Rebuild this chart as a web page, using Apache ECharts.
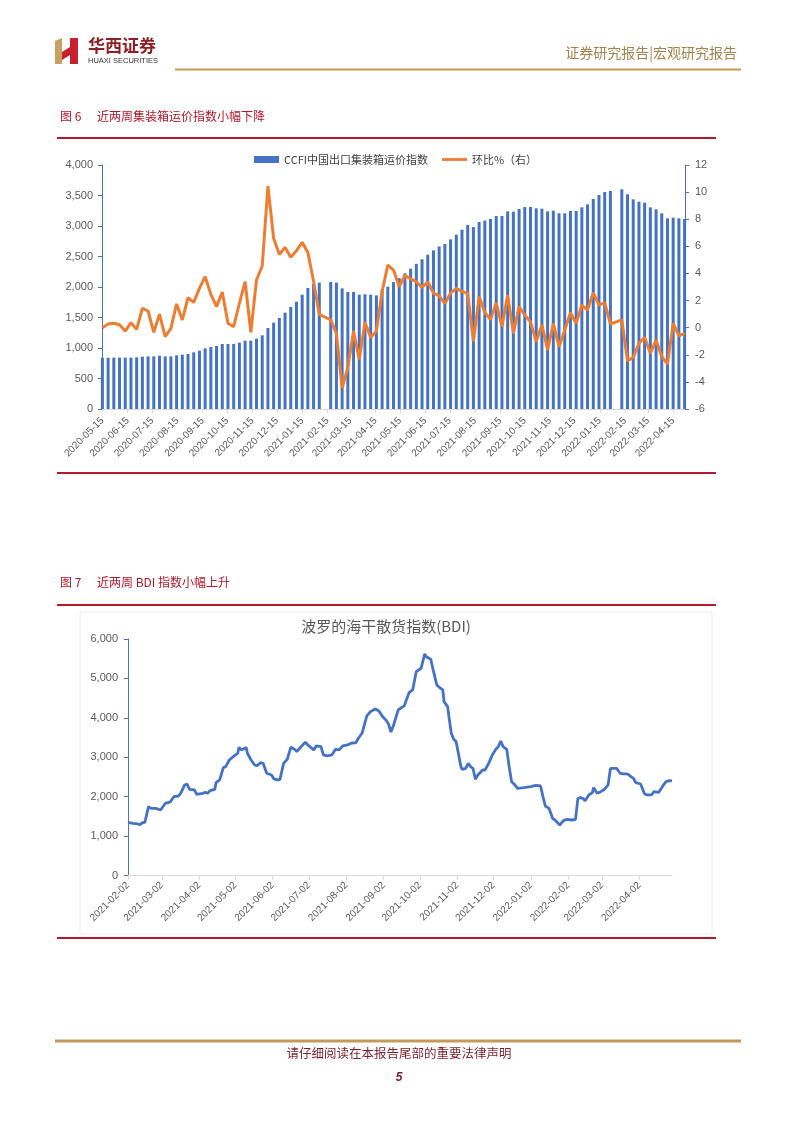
<!DOCTYPE html>
<html><head><meta charset="utf-8">
<script src="https://cdn.jsdelivr.net/npm/echarts@6/dist/echarts.min.js"></script>
<style>html,body{margin:0;padding:0;background:#fff}#c{width:802px;height:1133px}</style>
</head><body><div id="c"></div>
<script>
// ---------- Figure 6: CCFI weekly ----------
const ccfiDates = ['2020-05-15','2020-05-22','2020-05-29','2020-06-05','2020-06-12','2020-06-19','2020-06-26','2020-07-03','2020-07-10','2020-07-17','2020-07-24','2020-07-31','2020-08-07','2020-08-14','2020-08-21','2020-08-28','2020-09-04','2020-09-11','2020-09-18','2020-09-25','2020-10-02','2020-10-09','2020-10-16','2020-10-23','2020-10-30','2020-11-06','2020-11-13','2020-11-20','2020-11-27','2020-12-04','2020-12-11','2020-12-18','2020-12-25','2021-01-01','2021-01-08','2021-01-15','2021-01-22','2021-01-29','2021-02-05','2021-02-19','2021-02-26','2021-03-05','2021-03-12','2021-03-19','2021-03-26','2021-04-02','2021-04-09','2021-04-16','2021-04-23','2021-04-30','2021-05-07','2021-05-14','2021-05-21','2021-05-28','2021-06-04','2021-06-11','2021-06-18','2021-06-25','2021-07-02','2021-07-09','2021-07-16','2021-07-23','2021-07-30','2021-08-06','2021-08-13','2021-08-20','2021-08-27','2021-09-03','2021-09-10','2021-09-17','2021-09-24','2021-10-01','2021-10-08','2021-10-15','2021-10-22','2021-10-29','2021-11-05','2021-11-12','2021-11-19','2021-11-26','2021-12-03','2021-12-10','2021-12-17','2021-12-24','2021-12-31','2022-01-07','2022-01-14','2022-01-21','2022-01-28','2022-02-11','2022-02-18','2022-02-25','2022-03-04','2022-03-11','2022-03-18','2022-03-25','2022-04-01','2022-04-08','2022-04-15','2022-04-22','2022-04-29'];
const ccfiIndex = [841,841,842,842,842,842,847,858,863,863,874,863,863,880,891,902,929,956,995,1016,1033,1066,1066,1066,1087,1120,1120,1153,1208,1328,1415,1492,1579,1672,1760,1874,1984,2050,2071,
  2082,2071,1978,1918,1918,1874,1880,1874,1863,1960,2005,2080,2145,2224,2300,2380,2454,2530,2600,2664,2705,2781,2858,2940,3016,2984,3065,3090,3115,3164,3164,3240,3235,3279,3311,3311,3290,3284,3240,3251,3208,3208,3246,3246,3306,3355,3443,3508,3557,3574,
  3601,3519,3437,3399,3383,3306,3273,3208,3126,3137,3126,3115];
const ccfiChange = [0.0,0.27,0.32,0.22,-0.25,0.37,-0.12,1.43,1.23,-0.34,1.0,-0.66,-0.05,1.75,0.57,2.21,1.87,2.9,3.76,2.46,1.55,2.63,0.32,0.07,1.8,3.39,-0.34,3.52,4.55,10.45,6.59,5.4,5.92,5.19,5.68,6.3,5.55,3.4,0.97,
  0.57,-0.45,-4.45,-2.95,-0.24,-2.35,0.4,-0.72,-0.27,2.65,4.62,4.25,3.02,3.85,3.6,3.39,2.97,3.39,2.55,2.34,1.78,2.55,2.9,2.66,2.55,-1.0,2.29,1.12,0.59,1.84,0.07,2.41,-0.42,1.55,0.93,0.44,-1.03,0.2,-1.65,0.32,-1.4,-0.17,1.1,0.32,1.67,1.3,2.58,1.67,1.84,0.27,
  0.57,-2.46,-2.19,-1.16,-0.71,-1.89,-0.91,-2.14,-2.68,0.32,-0.61,-0.42];
const ccfiTickLabels = ['2020-05-15','2020-06-15','2020-07-15','2020-08-15','2020-09-15','2020-10-15','2020-11-15','2020-12-15','2021-01-15','2021-02-15','2021-03-15','2021-04-15','2021-05-15','2021-06-15','2021-07-15','2021-08-15','2021-09-15','2021-10-15','2021-11-15','2021-12-15','2022-01-15','2022-02-15','2022-03-15','2022-04-15'];

// ---------- Figure 7: BDI ----------
const bdiDates = ['2021-02-02','2021-02-06','2021-02-10','2021-02-12','2021-02-14','2021-02-16','2021-02-19','2021-02-21','2021-02-25','2021-03-01','2021-03-02','2021-03-05','2021-03-09','2021-03-12','2021-03-16','2021-03-18','2021-03-21','2021-03-23','2021-03-25','2021-03-29','2021-03-31','2021-04-05','2021-04-07','2021-04-09','2021-04-11','2021-04-15','2021-04-16','2021-04-19','2021-04-22','2021-04-24','2021-04-27','2021-05-01','2021-05-04','2021-05-05','2021-05-07','2021-05-11','2021-05-12','2021-05-15','2021-05-18','2021-05-20','2021-05-23','2021-05-25','2021-05-28','2021-06-01','2021-06-03','2021-06-06','2021-06-08','2021-06-11','2021-06-14','2021-06-17','2021-06-20','2021-06-22','2021-06-25','2021-06-29','2021-07-02','2021-07-06','2021-07-08','2021-07-12','2021-07-14','2021-07-17','2021-07-21','2021-07-24','2021-07-27','2021-07-30','2021-08-03','2021-08-06','2021-08-10','2021-08-12','2021-08-15','2021-08-19','2021-08-22','2021-08-26','2021-08-29','2021-09-01','2021-09-04','2021-09-06','2021-09-08','2021-09-10','2021-09-14','2021-09-16','2021-09-19','2021-09-23','2021-09-26','2021-09-29','2021-10-03','2021-10-06','2021-10-07','2021-10-11','2021-10-13','2021-10-16','2021-10-19','2021-10-21','2021-10-22','2021-10-25','2021-10-26','2021-10-28','2021-10-30','2021-11-01','2021-11-05','2021-11-06','2021-11-09','2021-11-11','2021-11-13','2021-11-15','2021-11-17','2021-11-19','2021-11-23','2021-11-25','2021-11-28','2021-12-01','2021-12-04','2021-12-06','2021-12-08','2021-12-10','2021-12-13','2021-12-15','2021-12-17','2021-12-19','2021-12-22','2021-12-27','2022-01-02','2022-01-06','2022-01-10','2022-01-12','2022-01-14','2022-01-17','2022-01-20','2022-01-22','2022-01-26','2022-01-29','2022-02-01','2022-02-05','2022-02-08','2022-02-10','2022-02-12','2022-02-14','2022-02-16','2022-02-19','2022-02-22','2022-02-23','2022-02-26','2022-03-01','2022-03-04','2022-03-07','2022-03-09','2022-03-14','2022-03-17','2022-03-20','2022-03-23','2022-03-26','2022-03-28','2022-03-30','2022-04-03','2022-04-06','2022-04-08','2022-04-12','2022-04-14','2022-04-18','2022-04-21','2022-04-24','2022-04-27','2022-04-29'];
const bdiValues = [1349,1324,1307,1290,1341,1350,1746,1704,1704,1662,1620,1832,1866,2000,2017,2102,2297,2322,2187,2170,2060,2085,2110,2085,2153,2187,2356,2424,2737,2762,2931,3033,3101,3253,3186,3245,3101,2931,2804,2787,2863,2846,2593,2550,2449,2424,2440,2846,2948,3253,3202,3143,3253,3380,3287,3186,3287,3270,3058,3033,3058,3202,3186,3287,3312,3355,3372,3481,3608,4048,4158,4226,4175,4031,3940,3840,3640,3800,4200,4243,4302,4640,4708,5173,5258,5622,5554,5486,5216,4835,4750,4708,4412,4285,4048,3608,3456,3397,2762,2694,2720,2846,2762,2720,2440,2550,2677,2677,2846,3058,3202,3270,3414,3270,3202,2762,2381,2322,2212,2229,2254,2288,2271,2000,1763,1704,1450,1408,1281,1391,1425,1408,1425,1958,1975,1958,1899,2043,2102,2229,2085,2127,2187,2297,2720,2720,2593,2576,2576,2508,2466,2356,2322,2085,2043,2043,2127,2110,2254,2381,2407,2398];
const bdiTickLabels = ['2021-02-02','2021-03-02','2021-04-02','2021-05-02','2021-06-02','2021-07-02','2021-08-02','2021-09-02','2021-10-02','2021-11-02','2021-12-02','2022-01-02','2022-02-02','2022-03-02','2022-04-02'];

// ---------- helpers ----------
const ts = s => { const p = s.split('-').map(Number); return new Date(p[0], p[1]-1, p[2]).getTime(); };
const pad = n => (n < 10 ? '0' : '') + n;
const fmtDate = v => { const d = new Date(v); return d.getFullYear() + '-' + pad(d.getMonth()+1) + '-' + pad(d.getDate()); };
const fmtThousand = v => v.toLocaleString('en-US');
const HALF_DAY = 43200000;

const LAT = 'Liberation Sans, Arial, sans-serif';
const CJK = 'Noto Sans CJK SC, sans-serif';
const GRAY = '#595959';
const RED = '#B3182B';
const GOLD = '#C49A5A';
const BLUE = '#4472C4';
const ORANGE = '#ED7D31';

const chart = echarts.init(document.getElementById('c'), null, {renderer: 'canvas'});

const text = (t, x, y, font, fill, align) => ({
  type: 'text', x: x, y: y, silent: true,
  style: {text: t, font: font, fill: fill, textAlign: align || 'left', textVerticalAlign: 'middle'}
});
const hline = (x1, x2, y, color, w) => ({
  type: 'line', silent: true, shape: {x1: x1, y1: y, x2: x2, y2: y}, style: {stroke: color, lineWidth: w}
});

const dateAxis = (grid, minV, maxV, ticks, margin) => ({
  type: 'value', gridIndex: grid, min: minV, max: maxV, scale: true,
  axisLine: {lineStyle: {color: '#D9D9D9', width: 1}},
  axisTick: {show: true, customValues: ticks, length: 4, lineStyle: {color: '#D9D9D9'}},
  axisLabel: {customValues: ticks, rotate: 45, formatter: fmtDate, fontSize: 10, color: GRAY, fontFamily: LAT, margin: margin},
  splitLine: {show: false}
});

const option = {
  backgroundColor: '#ffffff',
  animation: false,
  legend: {
    top: 149, left: 249, itemWidth: 25, itemHeight: 7, itemGap: 14, symbolKeepAspect: true,
    textStyle: {fontSize: 11, color: '#404040', fontFamily: CJK},
    data: [
      {name: 'CCFI中国出口集装箱运价指数', icon: 'rect'},
      {name: '环比%（右）', icon: 'path://M0,0L27,0L27,3L0,3Z'}
    ]
  },
  grid: [
    {left: 102, top: 165, width: 583, height: 244, outerBoundsMode: 'none'},
    {left: 128, top: 639, width: 544, height: 236.5, outerBoundsMode: 'none'}
  ],
  xAxis: [
    dateAxis(0, ts(ccfiDates[0]) - HALF_DAY, ts(ccfiDates[ccfiDates.length-1]) + HALF_DAY, ccfiTickLabels.map(ts), 10),
    dateAxis(1, ts(bdiDates[0]), ts(bdiDates[bdiDates.length-1]), bdiTickLabels.map(ts), 8)
  ],
  yAxis: [
    {
      type: 'value', gridIndex: 0, position: 'left', min: 0, max: 4000, interval: 500,
      axisLine: {show: true, lineStyle: {color: BLUE}},
      axisTick: {show: true, length: 4, lineStyle: {color: BLUE}},
      axisLabel: {formatter: fmtThousand, fontSize: 11, color: GRAY, fontFamily: LAT, margin: 9},
      splitLine: {show: false}
    },
    {
      type: 'value', gridIndex: 0, position: 'right', min: -6, max: 12, interval: 2,
      axisLine: {show: true, lineStyle: {color: BLUE}},
      axisTick: {show: true, length: 4, lineStyle: {color: BLUE}},
      axisLabel: {fontSize: 11, color: GRAY, fontFamily: LAT, margin: 10},
      splitLine: {show: false}
    },
    {
      type: 'value', gridIndex: 1, position: 'left', min: 0, max: 6000, interval: 1000,
      axisLine: {show: true, lineStyle: {color: BLUE}},
      axisTick: {show: true, length: 4, lineStyle: {color: BLUE}},
      axisLabel: {formatter: fmtThousand, fontSize: 11, color: GRAY, fontFamily: LAT, margin: 10},
      splitLine: {show: false}
    }
  ],
  series: [
    {
      name: 'CCFI中国出口集装箱运价指数', type: 'bar', xAxisIndex: 0, yAxisIndex: 0,
      barWidth: 3, itemStyle: {color: BLUE},
      data: ccfiDates.map((d, i) => [ts(d), ccfiIndex[i]])
    },
    {
      name: '环比%（右）', type: 'line', xAxisIndex: 0, yAxisIndex: 1,
      symbol: 'none', lineStyle: {color: ORANGE, width: 3}, itemStyle: {color: ORANGE},
      data: ccfiDates.map((d, i) => [ts(d), ccfiChange[i]])
    },
    {
      name: 'BDI', type: 'line', xAxisIndex: 1, yAxisIndex: 2,
      symbol: 'none', lineStyle: {color: BLUE, width: 2.8}, itemStyle: {color: BLUE},
      data: bdiDates.map((d, i) => [ts(d), bdiValues[i]])
    }
  ],
  graphic: [
    {type: 'polygon', silent: true, shape: {points: [[55,41],[62,38],[62,64],[55,64]]}, style: {fill: '#C9A063'}},
    {type: 'polygon', silent: true, shape: {points: [[62,52],[70,47],[70,38],[78,38],[78,64],[70,64],[70,55],[62,60]]}, style: {fill: '#C8202F'}},
    text('华西证券', 88, 46, 'bold 17px ' + CJK, '#8E1F23'),
    text('HUAXI SECURITIES', 88, 61, '7.5px ' + LAT, '#333333'),
    text('证券研究报告|宏观研究报告', 737, 53, '14px ' + CJK, '#A5824B', 'right'),
    hline(175, 741, 69.5, GOLD, 2),
    text('图 6', 60, 116, '12px ' + CJK, RED),
    text('近两周集装箱运价指数小幅下降', 97, 116, '12px ' + CJK, RED),
    hline(57, 716, 138, RED, 2),
    hline(57, 716, 473, RED, 2),
    text('图 7', 60, 582, '12px ' + CJK, RED),
    text('近两周 BDI 指数小幅上升', 97, 582, '12px ' + CJK, RED),
    hline(57, 716, 605, RED, 2),
    hline(57, 716, 938, RED, 2),
    {type: 'rect', silent: true, shape: {x: 80, y: 612, width: 632, height: 322}, style: {fill: null, stroke: '#ECECEC', lineWidth: 1}},
    text('波罗的海干散货指数(BDI)', 386, 626, '15px ' + CJK, GRAY, 'center'),
    hline(55, 741, 1041, GOLD, 3),
    text('请仔细阅读在本报告尾部的重要法律声明', 399, 1053, '12.5px ' + CJK, '#7A1F2B', 'center'),
    text('5', 399, 1078, 'bold italic 12px ' + LAT, '#7A1F2B', 'center')
  ]
};
chart.setOption(option);
</script>
</body></html>
